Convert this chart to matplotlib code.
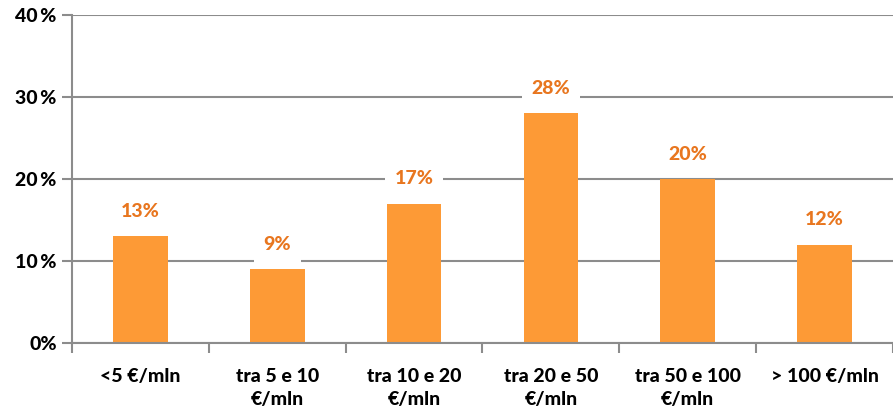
import numpy as np
import matplotlib.pyplot as plt

categories = ["<5 €/mln", "tra 5 e 10\n€/mln", "tra 10 e 20\n€/mln",
              "tra 20 e 50\n€/mln", "tra 50 e 100\n€/mln", "> 100 €/mln"]
values = [13, 9, 17, 28, 20, 12]
ytick_vals = [0, 10, 20, 30, 40]
ytick_labels = ["0%", "10\u2009%", "20\u2009%", "30\u2009%", "40\u2009%"]

plt.rcParams['font.family'] = ['Lato', 'DejaVu Sans']

fig = plt.figure(figsize=(8.93, 4.12), dpi=100)
ax = fig.add_axes([0.0806, 0.1675, 0.9194, 0.7961])

x = np.arange(len(categories))
grey = "#8c8c8c"
fs = 14

ax.set_xlim(-0.5, len(categories) - 0.5)
ax.set_ylim(0, 40)
ax.set_yticks(ytick_vals)
ax.set_yticklabels(ytick_labels, fontsize=fs, fontweight=900)
ax.yaxis.grid(True, color=grey, linewidth=1.5)
ax.set_axisbelow(True)

ax.bar(x, values, width=0.4, color="#fd9a36", zorder=2)

for xi, v in zip(x, values):
    ax.text(xi, v + 3, f"{v}%", ha="center", va="center", fontsize=fs,
            fontweight=900, color="#e8761f", zorder=3,
            bbox=dict(boxstyle="square,pad=0.5", fc="white", ec="none"))

ax.set_xticks(x)
ax.set_xticklabels(categories, fontsize=fs, fontweight=900, linespacing=1.45)
ax.tick_params(axis="x", which="major", length=0, pad=18)
ax.set_xticks(np.arange(-0.5, len(categories), 1), minor=True)
ax.tick_params(axis="x", which="minor", length=7, width=1.5, color=grey)
ax.tick_params(axis="y", length=7, width=1.5, color=grey, pad=4)

for s in ["top", "right"]:
    ax.spines[s].set_visible(False)
for s in ["left", "bottom"]:
    ax.spines[s].set_color(grey)
    ax.spines[s].set_linewidth(1.5)

fig.savefig("out.png", dpi=100)
